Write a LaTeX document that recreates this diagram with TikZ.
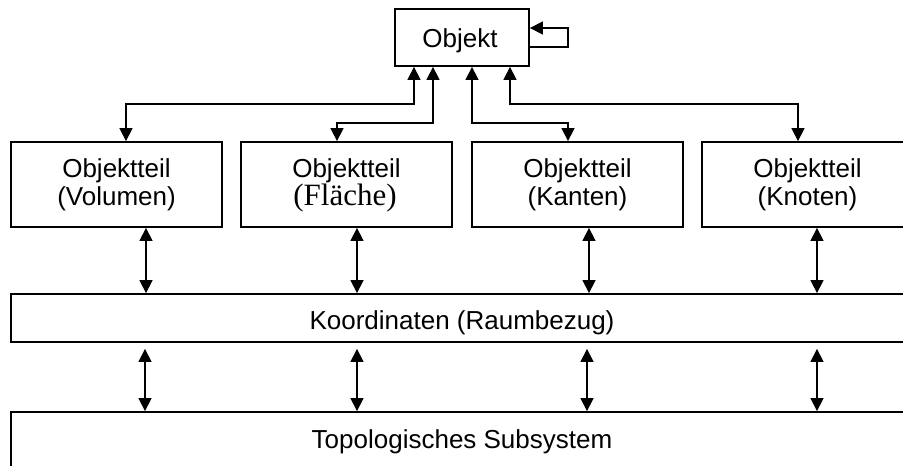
\documentclass[tikz,border=0pt]{standalone}
\usepackage{fontspec}
\setmainfont{Liberation Sans}
\newfontfamily\serifface{Liberation Serif}
\usetikzlibrary{arrows.meta}

\tikzset{
  box/.style={draw, line width=1.8pt, rectangle, inner sep=0pt},
  lbl/.style={anchor=base, inner sep=0pt, font=\fontsize{26}{29}\selectfont},
  link/.style={line width=1.3pt, line join=miter},
  tip/.style={-{Triangle[length=13pt,width=13pt]}},
  both/.style={{Triangle[length=13pt,width=13pt]}-{Triangle[length=13pt,width=13pt]}}
}

\begin{document}
\begin{tikzpicture}[x=1pt, y=-1pt]
  \useasboundingbox (0,0) rectangle (903,466);
  \clip (0,0) rectangle (903,466);

  % object box and its self reference
  \node[box, minimum width=134pt, minimum height=57pt] (obj) at (462,37.5) {};
  \node[lbl] (objT) at (460,47) {Objekt};
  \draw[link, tip] (obj.east |- 0,47) -| (568,28) -- (obj.east |- 0,28);

  % object parts
  \node[box, minimum width=211pt, minimum height=85pt] (vol) at (116.5,184.5) {};
  \node[box, minimum width=211pt, minimum height=85pt] (fla) at (346.5,184.5) {};
  \node[box, minimum width=211pt, minimum height=85pt] (kan) at (577.5,184.5) {};
  \node[box, minimum width=211pt, minimum height=85pt] (kno) at (807.5,184.5) {};

  \node[lbl] (volA) at (116.5,177) {Objektteil};
  \node[lbl] (volB) at (116.5,205) {(Volumen)};
  \node[lbl] (flaA) at (346.5,177) {Objektteil};
  \node[lbl, font=\serifface\fontsize{31}{34}\selectfont] (flaB) at (345,205) {(Fläche)};
  \node[lbl] (kanA) at (577.5,177) {Objektteil};
  \node[lbl] (kanB) at (577.5,205) {(Kanten)};
  \node[lbl] (knoA) at (807.5,177) {Objektteil};
  \node[lbl] (knoB) at (807.5,205) {(Knoten)};

  % spatial reference and topology layers
  \node[box, minimum width=902pt, minimum height=48pt] (koo) at (462,318) {};
  \node[lbl] (kooT) at (462,329) {Koordinaten (Raumbezug)};
  \node[box, minimum width=902pt, minimum height=70pt] (top) at (462,447) {};
  \node[lbl] (topT) at (462,448) {Topologisches Subsystem};

  % object to object parts
  \draw[link, both] (414,0 |- obj.south) |- (126,104) -- (126,0 |- vol.north);
  \draw[link, both] (433,0 |- obj.south) |- (337,123) -- (337,0 |- fla.north);
  \draw[link, both] (472,0 |- obj.south) |- (568,123) -- (568,0 |- kan.north);
  \draw[link, both] (510,0 |- obj.south) |- (798,104) -- (798,0 |- kno.north);

  % object parts to coordinates
  \draw[link, both] (146,0 |- vol.south) -- (146,0 |- koo.north);
  \draw[link, both] (357,0 |- fla.south) -- (357,0 |- koo.north);
  \draw[link, both] (589,0 |- kan.south) -- (589,0 |- koo.north);
  \draw[link, both] (817,0 |- kno.south) -- (817,0 |- koo.north);

  % coordinates to topology
  \draw[link, both, shorten <=6pt] (145,0 |- koo.south) -- (145,0 |- top.north);
  \draw[link, both, shorten <=6pt] (357,0 |- koo.south) -- (357,0 |- top.north);
  \draw[link, both, shorten <=6pt] (587,0 |- koo.south) -- (587,0 |- top.north);
  \draw[link, both, shorten <=6pt] (817,0 |- koo.south) -- (817,0 |- top.north);
\end{tikzpicture}
\end{document}
